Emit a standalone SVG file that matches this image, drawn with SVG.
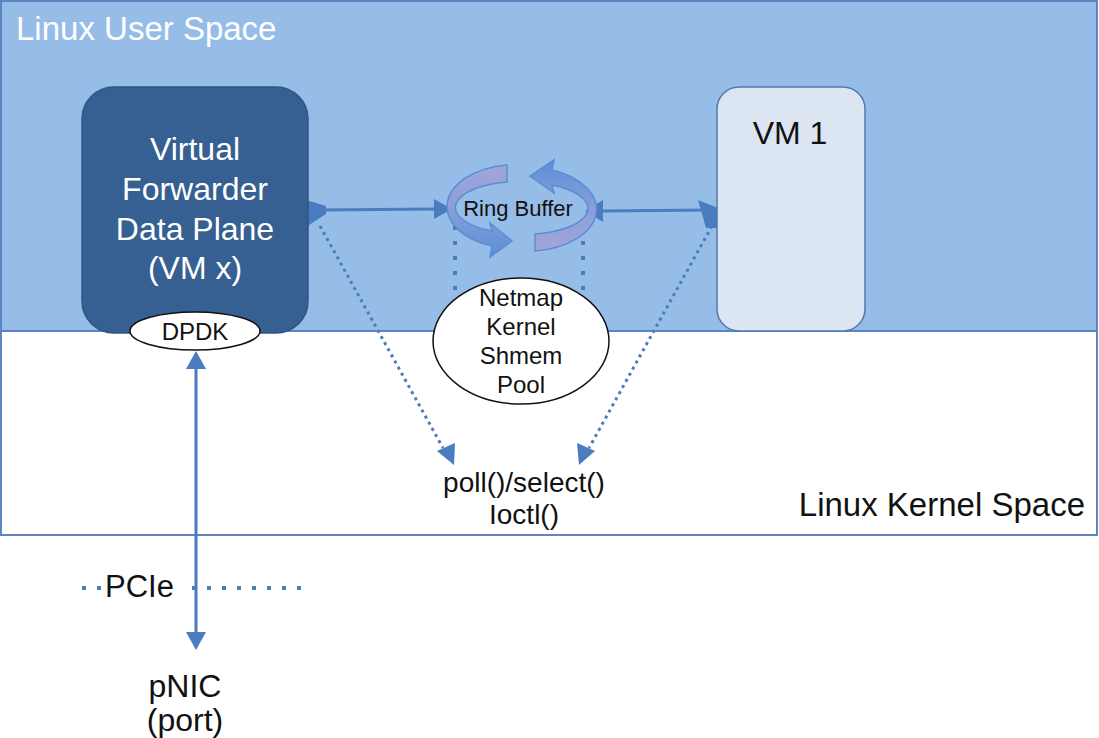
<svg xmlns="http://www.w3.org/2000/svg" width="1099" height="738" viewBox="0 0 1099 738">
<defs>
<style>
text{font-family:"Liberation Sans",Arial,sans-serif;}
.wt{fill:#ffffff;}
.bk{fill:#111111;}
.solid{stroke:#4A7DC0;stroke-width:3;fill:none;}
.dots{stroke:#4A7DC0;stroke-width:3;fill:none;stroke-dasharray:3 4;}
.sq{stroke:#4A7DC0;stroke-width:4;fill:none;stroke-dasharray:4 11;}
.ah{fill:#4A7DC0;}
</style>
<linearGradient id="ringL" x1="0" y1="0" x2="0" y2="1">
<stop offset="0" stop-color="#A3A6DA"/>
<stop offset="0.45" stop-color="#8B9FDA"/>
<stop offset="1" stop-color="#5B8FD6"/>
</linearGradient>
<linearGradient id="ringR" x1="0" y1="1" x2="0" y2="0">
<stop offset="0" stop-color="#A3A6DA"/>
<stop offset="0.45" stop-color="#8B9FDA"/>
<stop offset="1" stop-color="#5B8FD6"/>
</linearGradient>
</defs>

<g id="user-space">
<rect x="1" y="1" width="1096" height="330" fill="#95BDE8" stroke="#5B86C2" stroke-width="2"/>
<text x="16" y="40" font-size="33" class="wt">Linux User Space</text>
</g>
<g id="kernel-space">
<rect x="1" y="331" width="1096" height="204" fill="#FFFFFF" stroke="#5B86C2" stroke-width="2"/>
<text x="1085" y="516" font-size="33" text-anchor="end" class="bk">Linux Kernel Space</text>
</g>

<g id="connectors">
<!-- VM x <-> Ring buffer -->
<line x1="320" y1="210" x2="436" y2="209" class="solid"/>
<polygon class="ah" points="434,199 452,209 434,219"/>
<polygon class="ah" points="306,200 326,206 326,214 306,227"/>
<!-- Ring buffer <-> VM 1 -->
<line x1="600" y1="211" x2="710" y2="210" class="solid"/>
<polygon class="ah" points="603,200 585,211 603,222"/>
<polygon class="ah" points="698,200 718,208 718,228 706,228"/>
<!-- dotted arrows to poll/select -->
<line x1="320" y1="226" x2="443" y2="448" class="dots"/>
<polygon class="ah" points="437,451 455,443 454,465"/>
<line x1="712" y1="226" x2="589" y2="448" class="dots"/>
<polygon class="ah" points="577,443 595,451 579,465"/>
<!-- dotted verticals from ring to netmap -->
<line x1="455" y1="226" x2="455" y2="292" class="sq"/>
<line x1="583" y1="226" x2="583" y2="292" class="sq"/>
<!-- DPDK <-> pNIC -->
<line x1="196" y1="368" x2="196" y2="634" class="solid"/>
<polygon class="ah" points="186,369 196,351 206,369"/>
<polygon class="ah" points="186,632 196,650 206,632"/>
<!-- PCIe dotted line -->
<line x1="82" y1="588" x2="102" y2="588" class="sq"/>
<line x1="192" y1="588" x2="302" y2="588" class="sq"/>
</g>

<g id="vm-x">
<rect x="82" y="87" width="226" height="246" rx="32" ry="32" fill="#365F92" stroke="#2F5685" stroke-width="1.5"/>
<text x="195" y="160" font-size="32" text-anchor="middle" class="wt">Virtual</text>
<text x="195" y="200" font-size="32" text-anchor="middle" class="wt">Forwarder</text>
<text x="195" y="240" font-size="32" text-anchor="middle" class="wt">Data Plane</text>
<text x="195" y="279" font-size="32" text-anchor="middle" class="wt">(VM x)</text>
</g>

<g id="dpdk">
<ellipse cx="195" cy="331" rx="65" ry="19" fill="#FFFFFF" stroke="#111111" stroke-width="1.5"/>
<text x="195" y="340" font-size="24" text-anchor="middle" class="bk">DPDK</text>
</g>

<g id="vm-1">
<rect x="717" y="87" width="148" height="244" rx="22" ry="22" fill="#DCE6F2" stroke="#5577AE" stroke-width="1.5"/>
<text x="790" y="144" font-size="32" text-anchor="middle" class="bk">VM 1</text>
</g>

<g id="ring-buffer">
<path d="M507,165 A69,42 0 0 0 492,246 L490,257 L512,241 L490,223 L492,231 A64,26 0 0 1 507,182 Z" fill="url(#ringL)" stroke="#5B8DD2" stroke-width="1.5"/>
<path d="M535,251 A69,42 0 0 0 552,170 L554,160 L530,176 L554,193 L552,185 A64,26 0 0 1 535,234 Z" fill="url(#ringR)" stroke="#5B8DD2" stroke-width="1.5"/>
<text x="518" y="216" font-size="22" text-anchor="middle" class="bk">Ring Buffer</text>
</g>

<g id="netmap">
<ellipse cx="521" cy="341" rx="88" ry="63" fill="#FFFFFF" stroke="#111111" stroke-width="1.5"/>
<text x="521" y="306" font-size="24" text-anchor="middle" class="bk">Netmap</text>
<text x="521" y="335" font-size="24" text-anchor="middle" class="bk">Kernel</text>
<text x="521" y="364" font-size="24" text-anchor="middle" class="bk">Shmem</text>
<text x="521" y="393" font-size="24" text-anchor="middle" class="bk">Pool</text>
</g>

<g id="poll-select">
<text x="524" y="492" font-size="28" text-anchor="middle" class="bk">poll()/select()</text>
<text x="524" y="524" font-size="28" text-anchor="middle" class="bk">Ioctl()</text>
</g>

<g id="pcie">
<text x="105" y="597" font-size="31" class="bk">PCIe</text>
</g>

<g id="pnic">
<text x="185" y="697" font-size="32" text-anchor="middle" class="bk">pNIC</text>
<text x="185" y="731" font-size="32" text-anchor="middle" class="bk">(port)</text>
</g>
</svg>
